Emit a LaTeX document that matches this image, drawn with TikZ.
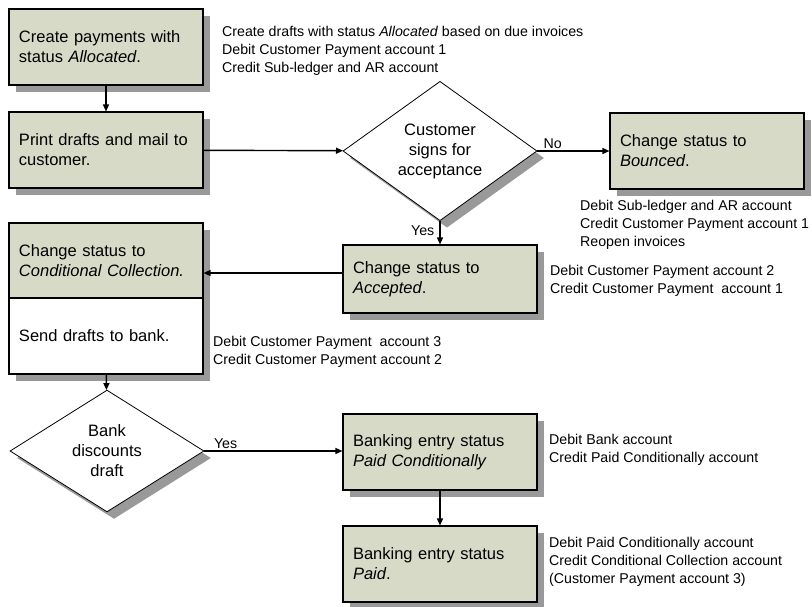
\documentclass[tikz,border=0pt]{standalone}
\usepackage{fontspec}
\setmainfont{Liberation Sans}
\usepackage{xcolor}
\definecolor{boxFill}{HTML}{D8DAC8}
\definecolor{shadowGray}{HTML}{999999}
\definecolor{lineDark}{HTML}{000000}
\usepackage{tikz}
\usetikzlibrary{shapes.geometric,arrows.meta,positioning,shadows}
\tikzset{
    process/.style={
        draw=lineDark,
        fill=boxFill,
        rectangle,
        align=left,
        text width=174pt,
        inner xsep=10pt,
        inner ysep=0pt,
        minimum height=76pt,
        line width=1.1pt,
        drop shadow={shadow xshift=7pt, shadow yshift=-7pt, fill=shadowGray, opacity=1},
        font=\fontsize{16.5}{20}\selectfont
    },
    decision/.style={
        draw=lineDark,
        fill=white,
        diamond,
        align=center,
        inner sep=0pt,
        minimum width=194pt,
        minimum height=112pt,
        line width=0.8pt,
        drop shadow={shadow xshift=7pt, shadow yshift=-7pt, fill=shadowGray, opacity=1},
        font=\fontsize{16.5}{20}\selectfont
    },
    notes/.style={
        anchor=west,
        align=left,
        inner sep=0pt,
        font=\fontsize{14.2}{17.7}\selectfont
    },
    arrow/.style={
        ->,
        >={Triangle[length=7pt,width=6pt]},
        line width=1.4pt,
        color=lineDark
    },
    flowlabel/.style={
        font=\fontsize{14.2}{17}\selectfont,
        inner sep=2pt
    }
}
\begin{document}
\begin{tikzpicture}[x=1pt, y=-1pt]
    \useasboundingbox (0,0) rectangle (812,606);

    % Left column
    \node[process] (alloc) at (106,47) {Create payments with\\status \textit{Allocated}.};
    \node[process] (print) at (106,150) {Print drafts and mail to\\customer.};
    \node[process, minimum height=75pt] (ccA) at (106,260.5) {Change status to\\\textit{Conditional Collection.}};
    \node[process, fill=white] (ccB) at (106,336) {Send drafts to bank.};
    \node[decision] (bankd) at (107,451) {Bank\\discounts\\draft};

    % Middle column
    \node[decision] (cust) at (440,151) {Customer\\signs for\\acceptance};
    \node[process, minimum height=68pt] (accepted) at (440,279) {Change status to\\\textit{Accepted}.};
    \node[process] (paidcond) at (440,452) {Banking entry status\\\textit{Paid Conditionally}};
    \node[process] (paid) at (440,564) {Banking entry status\\\textit{Paid}.};

    % Right column
    \node[process] (bounced) at (707,151) {Change status to\\\textit{Bounced}.};

    % Accounting notes
    \node[notes] (allocNote) at (222,51) {Create drafts with status \textit{Allocated} based on due invoices\\Debit Customer Payment account 1\\Credit Sub-ledger and AR account};
    \node[notes] (bouncedNote) at (580,225) {Debit Sub-ledger and AR account\\Credit Customer Payment account 1\\Reopen invoices};
    \node[notes] (acceptedNote) at (550,281) {Debit Customer Payment account 2\\Credit Customer Payment\ \ account 1};
    \node[notes] (ccNote) at (213,352) {Debit Customer Payment\ \ account 3\\Credit Customer Payment account 2};
    \node[notes] (paidcondNote) at (549,449.5) {Debit Bank account\\Credit Paid Conditionally account};
    \node[notes] (paidNote) at (549,562) {Debit Paid Conditionally account\\Credit Conditional Collection account\\(Customer Payment account 3)};

    % Flow
    \draw[arrow] (alloc) -- (print);
    \draw[arrow] (print) -- (cust);
    \draw[arrow] (cust) -- node[flowlabel, pos=0.05, above right] {No} (bounced);
    \draw[arrow] (cust) -- node[flowlabel, pos=0.4, left=3pt] {Yes} (accepted);
    \draw[arrow] ([yshift=6pt]accepted.west) -- ([yshift=6pt]accepted.west -| ccA.east);
    \draw[arrow] (ccB) -- (bankd);
    \draw[arrow] (bankd) -- node[flowlabel, pos=0.05, above right] {Yes} (bankd -| paidcond.west);
    \draw[arrow] (paidcond) -- (paid);
\end{tikzpicture}
\end{document}
